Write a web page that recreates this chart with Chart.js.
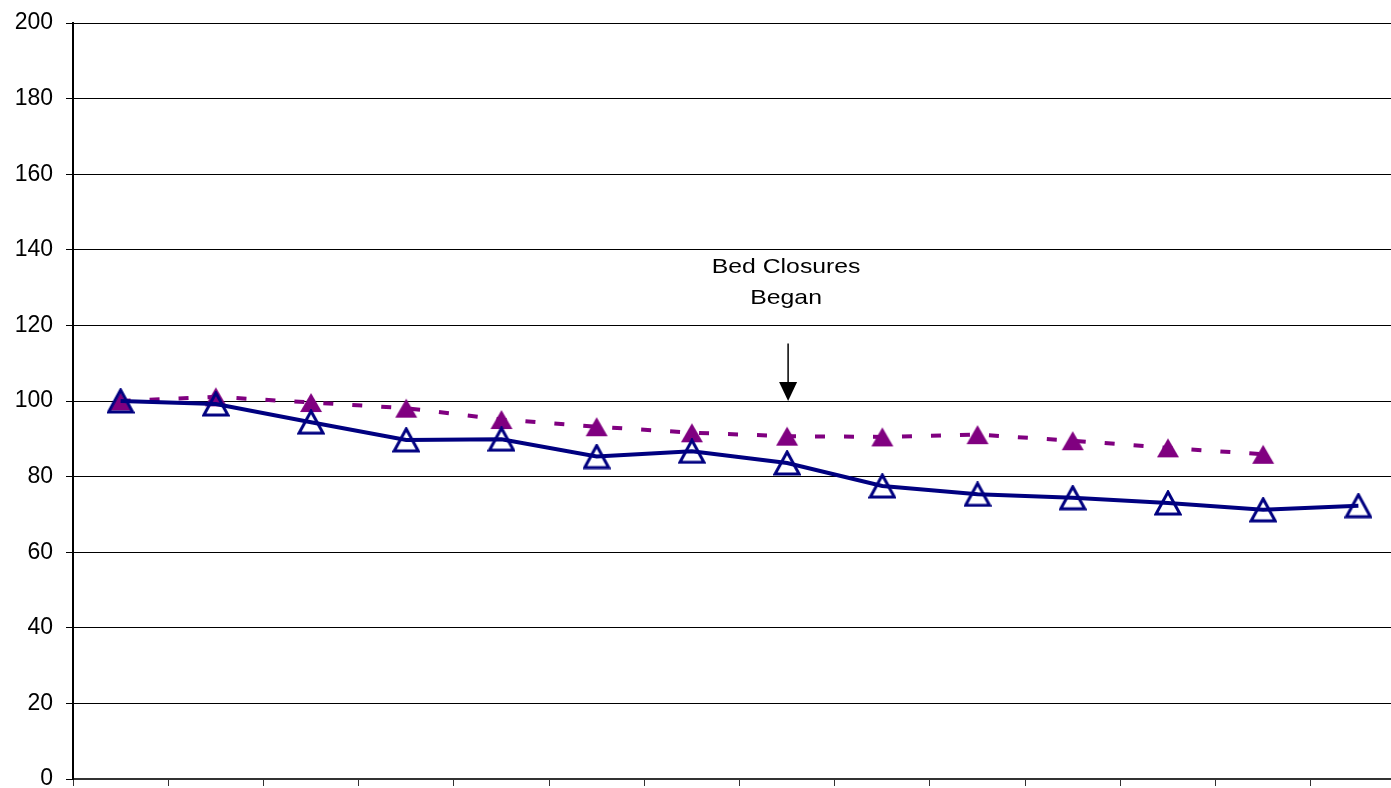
<!DOCTYPE html>
<html>
<head>
<meta charset="utf-8">
<script src="https://cdn.jsdelivr.net/npm/chart.js@4/dist/chart.umd.min.js"></script>
<style>
  html, body { margin: 0; padding: 0; background: #fff; overflow: hidden; }
  #wrap { width: 1422px; height: 795px; }
</style>
</head>
<body>
<div id="wrap"><canvas id="myChart" width="1422" height="795"></canvas></div>
<script>
// Daten
const categories = ['1', '2', '3', '4', '5', '6', '7', '8', '9', '10', '11', '12', '13', '14'];
const solidSeries = [100, 99.2, 94.4, 89.7, 89.9, 85.3, 86.7, 83.6, 77.5, 75.3, 74.4, 73.0, 71.2, 72.3];
const dashedSeries = [100, 101.1, 99.6, 98.1, 95.1, 93.2, 91.6, 90.7, 90.5, 91.1, 89.5, 87.6, 85.9, null];
const yTicks = [0, 20, 40, 60, 80, 100, 120, 140, 160, 180, 200];
const annotationIndex = 7;
const annotationText = ['Bed Closures', 'Began'];

// Dreiecke als eigene Marker (zentriert nach Begrenzungsrahmen wie in Excel)
function makeTriangle(w, h, fill, stroke, lw) {
    const c = document.createElement('canvas');
    c.width = w + 4; c.height = h + 4;
    const g = c.getContext('2d');
    g.beginPath();
    g.moveTo(c.width / 2, 2);
    g.lineTo(c.width - 2, c.height - 2);
    g.lineTo(2, c.height - 2);
    g.closePath();
    if (fill) { g.fillStyle = fill; g.fill(); }
    if (stroke) { g.strokeStyle = stroke; g.lineWidth = lw; g.lineJoin = 'miter'; g.stroke(); }
    return c;
}
const hollowTri = makeTriangle(24, 22, null, '#000080', 3);
const filledTri = makeTriangle(22, 19, '#800080', null, 0);

// Pfeil + Text
const annotationPlugin = {
    id: 'bedClosures',
    afterDatasetsDraw(chart) {
        const ctx = chart.ctx;
        const x = chart.scales.x.getPixelForValue(annotationIndex) + 1;
        const yS = chart.scales.y;
        const tip = yS.getPixelForValue(100);
        const start = yS.getPixelForValue(115.2);
        ctx.save();
        ctx.strokeStyle = '#000';
        ctx.fillStyle = '#000';
        ctx.lineWidth = 1.5;
        ctx.beginPath();
        ctx.moveTo(x, start);
        ctx.lineTo(x, tip - 16);
        ctx.stroke();
        ctx.beginPath();
        ctx.moveTo(x, tip);
        ctx.lineTo(x - 9, tip - 19);
        ctx.lineTo(x + 9, tip - 19);
        ctx.closePath();
        ctx.fill();
        // Text im Original etwas breiter gezogen
        ctx.font = '21px "Liberation Sans", Arial, sans-serif';
        ctx.textAlign = 'center';
        ctx.textBaseline = 'middle';
        ctx.translate(x - 2, 0);
        ctx.scale(1.18, 1);
        ctx.fillText(annotationText[0], 0, yS.getPixelForValue(135.5));
        ctx.fillText(annotationText[1], 0, yS.getPixelForValue(127.3));
        ctx.restore();
    }
};

const ctx = document.getElementById('myChart').getContext('2d');
const myChart = new Chart(ctx, {
    type: 'line',
    data: {
        labels: categories,
        datasets: [{
            label: 'Solid',
            data: solidSeries,
            borderColor: '#000080',
            borderWidth: 4,
            pointStyle: hollowTri,
            pointRadius: 12,
            tension: 0,
            order: 0
        }, {
            label: 'Dashed',
            data: dashedSeries,
            borderColor: '#800080',
            borderWidth: 4,
            borderDash: [10, 19],
            pointStyle: filledTri,
            pointRadius: 11,
            tension: 0,
            spanGaps: false,
            order: 1
        }]
    },
    options: {
        responsive: false,
        animation: false,
        layout: { padding: { top: 23, right: 0, left: 0, bottom: 0 } },
        plugins: { legend: { display: false }, tooltip: { enabled: false } },
        scales: {
            x: {
                offset: true,
                grid: { offset: true, drawOnChartArea: false, color: '#333', tickLength: 7 },
                border: { color: '#333', width: 2 },
                ticks: { display: false },
                afterFit: (s) => { s.height = 9; s.paddingLeft = 0; s.paddingRight = 0; }
            },
            y: {
                min: 0,
                max: 200,
                afterBuildTicks: (s) => { s.ticks = yTicks.map(v => ({ value: v })); },
                grid: { color: '#000', lineWidth: 1, tickLength: 7 },
                border: { color: '#000', width: 2 },
                ticks: {
                    color: '#000',
                    padding: 13,
                    font: { family: '"Liberation Sans", Arial, sans-serif', size: 23 }
                },
                afterFit: (s) => { s.width = 73; s.paddingTop = 0; s.paddingBottom = 0; }
            }
        }
    },
    plugins: [annotationPlugin]
});
</script>
</body>
</html>
